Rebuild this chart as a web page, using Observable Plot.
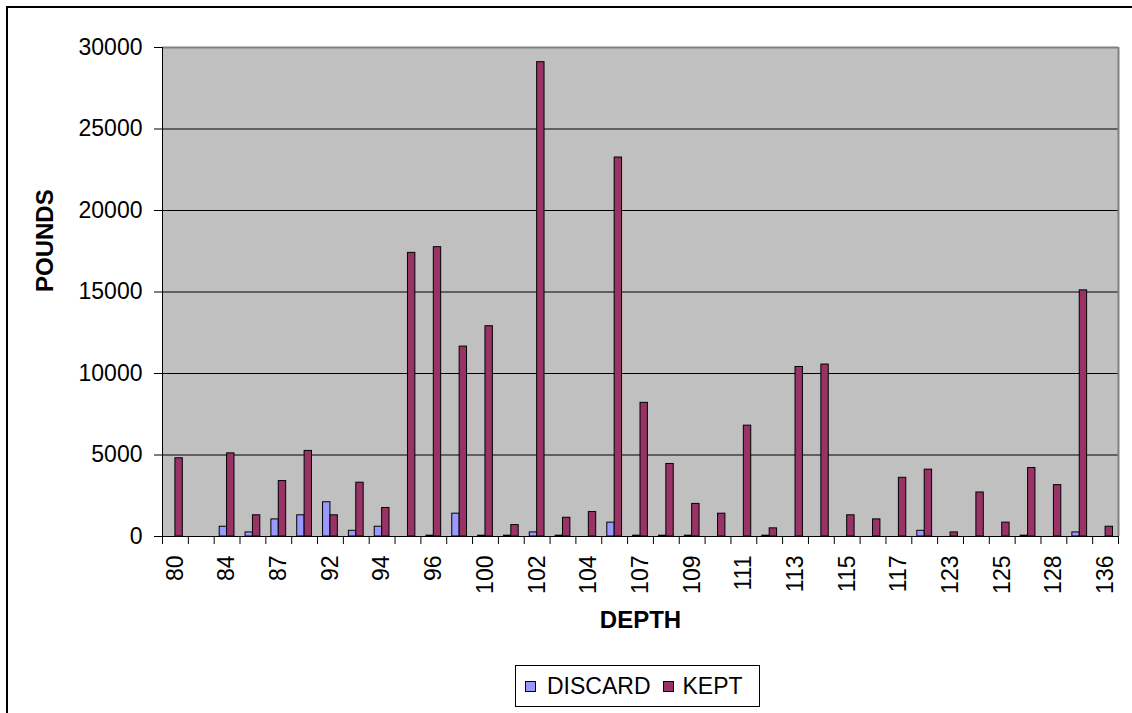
<!DOCTYPE html>
<html>
<head>
<meta charset="utf-8">
<script src="https://cdn.jsdelivr.net/npm/d3@7"></script>
<script src="https://cdn.jsdelivr.net/npm/@observablehq/plot@0.6"></script>
<style>
  html, body { margin: 0; padding: 0; background: #fff; }
  #wrap { position: relative; width: 1132px; height: 713px; overflow: hidden; font-family: "Liberation Sans", Arial, sans-serif; }
  #frame { position: absolute; left: 6px; top: 6px; width: 1200px; height: 800px; border-top: 2px solid #000; border-left: 2px solid #000; }
  #chart { position: absolute; left: 0; top: 0; }
  #legend { position: absolute; left: 515px; top: 665px; width: 245px; height: 42px; border: 1px solid #000; box-sizing: border-box; display: flex; align-items: center; font-size: 23px; color: #000; background: #fff; }
  .sw { display: inline-block; width: 9px; height: 9px; border: 1px solid #000; }
</style>
</head>
<body>
<div id="wrap">
  <div id="frame"></div>
  <div id="chart"></div>
  <div id="legend">
    <span class="sw" style="margin-left:9px;margin-right:11px;background:#9999FF"></span><span>DISCARD</span>
    <span class="sw" style="margin-left:12px;margin-right:9px;background:#993366"></span><span>KEPT</span>
  </div>
</div>
<script>
// Categories (depth), every other one labelled on the axis
const depth = ["80","82","84","86","87","90","92","93","94","95","96","98","100","101","102","103","104","106","107","108","109","110","111","112","113","114","115","116","117","120","123","124","125","127","128","130","136"];
const xLabels = ["80","84","87","92","94","96","100","102","104","107","109","111","113","115","117","123","125","128","136"];
// Series values (pounds)
const discard = [0,0,600,250,1050,1300,2100,350,600,0,50,1400,50,50,250,50,0,850,50,50,50,0,0,50,0,0,0,0,0,350,0,0,0,50,0,250,0];
const kept = [4800,0,5100,1300,3400,5250,1300,3300,1750,17400,17750,11650,12900,700,29100,1150,1500,23250,8200,4450,2000,1400,6800,500,10400,10550,1300,1050,3600,4100,250,2700,850,4200,3150,15100,600];
const yTicks = [0,5000,10000,15000,20000,25000,30000];
const gridTicks = [5000,10000,15000,20000,25000];

const rows = depth.map((d, i) => ({depth: d, discard: discard[i], kept: kept[i]}));

const W = 1132, H = 650;
const mL = 162, mR = 14, mT = 47, mB = H - 536;
const bw = (W - mL - mR) / depth.length;
const barW = bw / 3.5;
const plotH = H - mT - mB;

const chart = Plot.plot({
  width: W,
  height: H,
  marginLeft: mL,
  marginRight: mR,
  marginTop: mT,
  marginBottom: mB,
  style: {fontFamily: "Liberation Sans, Arial, sans-serif", fontSize: "23px", color: "#000", background: "transparent", overflow: "visible"},
  x: {type: "band", domain: depth, padding: 0},
  y: {domain: [0, 30000]},
  marks: [
    Plot.frame({fill: "#C0C0C0", stroke: null}),
    Plot.ruleY(gridTicks, {stroke: "#000", strokeWidth: 1}),
    Plot.ruleY([30000], {stroke: "#808080", strokeWidth: 2}),
    Plot.ruleX([depth[depth.length - 1]], {dx: bw / 2, stroke: "#808080", strokeWidth: 2}),
    Plot.barY(rows.filter(d => d.discard > 0), {x: "depth", y: "discard", fill: "#9999FF", stroke: "#000", strokeWidth: 1,
      insetLeft: bw / 2 - barW, insetRight: bw / 2}),
    Plot.barY(rows.filter(d => d.kept > 0), {x: "depth", y: "kept", fill: "#993366", stroke: "#000", strokeWidth: 1,
      insetLeft: bw / 2, insetRight: bw / 2 - barW}),
    Plot.ruleY([0], {stroke: "#000", strokeWidth: 1}),
    Plot.ruleX([depth[0]], {dx: -bw / 2, stroke: "#000", strokeWidth: 1, insetBottom: -8}),
    Plot.ruleX(depth.slice(1), {dx: -bw / 2, stroke: "#000", strokeWidth: 1, insetTop: plotH, insetBottom: -8}),
    Plot.ruleX([depth[depth.length - 1]], {dx: bw / 2, stroke: "#000", strokeWidth: 1, insetTop: plotH, insetBottom: -8}),
    Plot.axisY({ticks: yTicks, tickSize: 8, tickPadding: 12, tickFormat: d => String(d), label: null}),
    Plot.axisX({ticks: xLabels, tickRotate: -90, tickSize: 0, tickPadding: 19, label: null}),
    Plot.text(["POUNDS"], {text: d => d, frameAnchor: "left", dx: -117, rotate: -90, fontWeight: "bold", fontSize: 24}),
    Plot.text(["DEPTH"], {text: d => d, frameAnchor: "bottom", dy: 84, lineAnchor: "middle", fontWeight: "bold", fontSize: 24})
  ]
});
document.getElementById("chart").appendChild(chart);
</script>
</body>
</html>
